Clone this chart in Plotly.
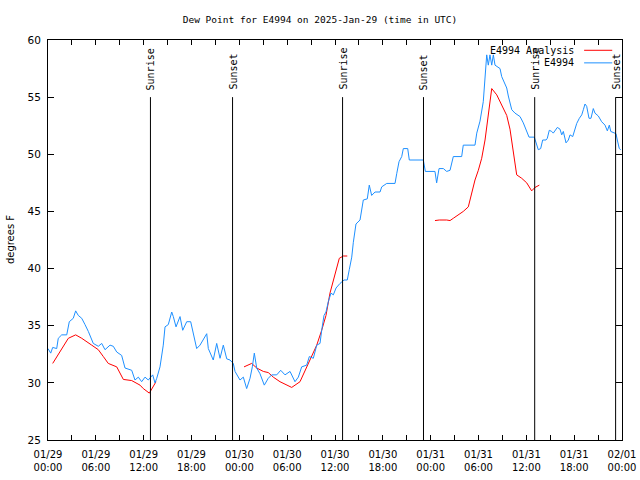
import pandas as pd
import plotly.graph_objects as go

START = pd.Timestamp("2025-01-29 00:00")

# Observed dew point (E4994), hours since 2025-01-29 00:00 UTC
obs_hours = [0.0, 0.34, 0.59, 1.09, 1.29, 1.72, 2.35, 2.67, 3.17, 3.47, 3.80, 4.23, 4.64, 5.06, 5.68,
             6.31, 6.74, 7.15, 7.78, 8.19, 8.62, 9.24, 9.66, 10.50, 10.91, 11.33, 11.75, 12.17, 12.58,
             13.13, 13.42, 13.64, 14.05, 14.46, 14.68, 15.09, 15.52, 15.72, 16.06, 16.56, 16.90, 17.40,
             17.90, 18.23, 18.65, 19.07, 19.48, 19.91, 20.11, 20.73, 21.16, 21.58, 21.99, 22.42, 22.83,
             23.24, 23.46, 24.08, 24.50, 24.92, 25.34, 25.63, 25.88, 26.18, 26.59, 27.13, 27.63, 28.06,
             28.69, 29.19, 29.73, 30.36, 30.98, 31.40, 31.82, 32.45, 32.78, 33.28, 33.71, 34.12, 34.33,
             34.62, 34.87, 35.16, 35.50, 35.79, 36.13, 36.63, 37.13, 37.54, 37.79, 38.10, 38.30, 38.63,
             39.14, 39.35, 39.55, 40.05, 40.30, 40.60, 41.02, 41.65, 41.86, 42.49, 43.53, 43.74, 44.03,
             44.37, 44.57, 45.12, 45.32, 47.08, 47.33, 48.54, 48.75, 49.05, 49.59, 50.01, 50.43, 50.84,
             51.89, 52.09, 53.56, 53.78, 54.19, 54.60, 54.82, 55.03, 55.23, 55.44, 55.66, 55.86, 56.07,
             56.70, 56.91, 57.54, 57.74, 58.17, 58.58, 59.21, 59.62, 60.05, 60.34, 61.00, 61.30, 61.50,
             61.80, 62.05, 62.47, 62.63, 62.88, 63.18, 63.38, 63.60, 63.89, 64.22, 64.44, 64.64, 64.98,
             65.27, 65.48, 65.82, 66.11, 66.32, 66.65, 66.95, 67.15, 67.36, 67.57, 67.86, 68.11, 68.40,
             68.61, 69.03, 69.45, 69.87, 70.16, 70.41, 70.59, 71.00, 71.25, 71.41, 71.66, 71.84]
obs_values = [33.0, 32.6, 33.1, 33.0, 33.9, 34.2, 34.2, 35.35, 35.65, 36.3, 35.9, 35.65, 35.1, 34.5, 33.45,
              33.2, 33.45, 32.9, 33.3, 33.2, 32.7, 32.4, 31.3, 31.1, 30.25, 30.5, 30.1, 30.5, 30.25,
              30.7, 30.0, 30.4, 31.4, 33.3, 34.9, 35.1, 36.2, 35.8, 34.9, 35.8, 34.6, 35.35,
              35.35, 34.3, 33.0, 33.3, 33.75, 34.3, 33.0, 32.0, 33.45, 32.15, 33.3, 32.1, 32.0,
              31.7, 31.0, 30.25, 30.5, 29.5, 30.4, 31.4, 32.6, 31.3, 30.8, 29.8, 30.4, 30.7,
              30.7, 31.1, 30.7, 31.0, 30.1, 30.5, 31.4, 31.55, 32.3, 32.15, 33.3, 33.45, 34.6,
              35.9, 36.2, 37.1, 37.85, 37.7, 38.3, 38.7, 39.0, 39.0, 39.9, 41.0, 42.3, 43.9,
              44.25, 45.4, 46.0, 46.1, 47.3, 46.4, 46.7, 46.7, 47.15, 47.45, 47.45, 48.3, 49.35,
              49.8, 50.5, 50.5, 49.5, 49.5, 48.5, 48.5, 47.5, 48.75, 48.75, 48.5, 48.6, 49.8,
              49.8, 50.8, 50.8, 51.85, 52.9, 54.6, 56.5, 58.7, 57.8, 58.7, 57.8, 58.7, 57.8,
              57.5, 56.8, 55.8, 55.1, 53.9, 53.6, 53.3, 52.75, 52.0, 51.5, 51.5, 50.7, 50.4,
              50.5, 51.25, 51.25, 51.4, 52.1, 52.0, 51.85, 52.1, 52.35, 52.2, 51.7, 52.0, 51.0,
              51.25, 51.7, 51.55, 52.2, 52.7, 53.15, 53.45, 53.9, 54.4, 54.2, 53.15, 53.15, 54.0,
              53.6, 53.35, 52.85, 52.55, 52.05, 52.55, 52.0, 51.85, 51.8, 51.25, 50.5, 50.4]

# Analysis dew point (None = gap)
ana_hours = [0.59, 2.55, 3.47, 4.23, 5.48, 6.31, 6.94, 7.56, 8.62, 9.45, 10.50, 11.54, 11.95, 12.71, 13.55,
             19.0,
             24.59, 25.55, 26.18, 27.01, 27.63, 28.26, 29.10, 29.94, 30.57, 31.61, 32.45, 33.08, 33.71,
             34.33, 34.87, 35.37, 36.00, 36.54, 37.04, 37.54,
             43.0,
             48.54, 49.08, 50.01, 50.43, 50.84, 51.47, 52.09, 52.72, 52.93, 53.56, 53.98, 54.40, 54.82,
             55.23, 55.44, 55.66, 56.29, 56.91, 57.54, 57.95, 58.37, 58.70, 58.79, 59.42, 60.05, 60.67,
             61.09, 61.63]
ana_values = [31.7, 33.9, 34.2, 33.9, 33.3, 32.9, 32.3, 31.7, 31.4, 30.3, 30.2, 29.8, 29.5, 29.1, 30.1,
              None,
              31.4, 31.7, 31.3, 31.0, 30.9, 30.5, 30.1, 29.8, 29.6, 30.1, 31.4, 32.3, 33.3,
              34.6, 35.9, 37.85, 39.6, 40.9, 41.1, 41.1,
              None,
              44.2, 44.25, 44.25, 44.2, 44.4, 44.7, 45.0, 45.4, 46.0, 47.75, 48.6, 49.65, 51.25,
              53.3, 54.75, 55.75, 55.2, 54.3, 53.4, 52.2, 50.4, 48.9, 48.2, 47.9, 47.5, 46.8,
              47.1, 47.3]

# Sun events (hours since start)
sun_hours = [12.85, 23.15, 36.95, 47.1, 61.05, 71.2]
sun_labels = ["Sunrise", "Sunset", "Sunrise", "Sunset", "Sunrise", "Sunset"]

# Axis
y_ticks = [25, 30, 35, 40, 45, 50, 55, 60]
x_tick_hours = list(range(0, 73, 3))

def t(h):
    return START + pd.to_timedelta(h, unit="h")

obs_t = [t(h) for h in obs_hours]
ana_t = [t(h) for h in ana_hours]

MONO = "DejaVu Sans Mono"
SANS = "DejaVu Sans"

fig = go.Figure()
fig.add_trace(go.Scatter(x=ana_t, y=ana_values, mode="lines", name="E4994 Analysis",
                         line=dict(color="#ff0000", width=1), connectgaps=False))
fig.add_trace(go.Scatter(x=obs_t, y=obs_values, mode="lines", name="E4994",
                         line=dict(color="#1e90ff", width=1)))

shapes = []
annotations = []
for h, lab in zip(sun_hours, sun_labels):
    shapes.append(dict(type="line", xref="x", yref="y", x0=t(h), x1=t(h), y0=25, y1=55,
                       line=dict(color="black", width=1)))
    annotations.append(dict(x=t(h), y=55.45, xref="x", yref="y", text=lab, showarrow=False,
                            textangle=-90, xanchor="center", yanchor="bottom",
                            font=dict(family=MONO, size=10, color="black")))

# manual legend (text right, sample line to the right)
leg_items = [("E4994 Analysis", "#ff0000", 59.1), ("E4994", "#1e90ff", 58.0)]
for name, col, yv in leg_items:
    annotations.append(dict(x=0.92, y=yv, xref="paper", yref="y", text=name, showarrow=False,
                            xanchor="right", yanchor="middle",
                            font=dict(family=MONO, size=10, color="black")))
    shapes.append(dict(type="line", xref="paper", yref="y", x0=0.934, x1=0.983, y0=yv, y1=yv,
                       line=dict(color=col, width=1)))

annotations.append(dict(x=-0.066, y=0.5, xref="paper", yref="paper", text="degrees F",
                        showarrow=False, textangle=-90, xanchor="center", yanchor="middle",
                        font=dict(family=SANS, size=10, color="black")))

tick_text = []
for h in x_tick_hours:
    if h % 6 == 0:
        ts = t(h)
        tick_text.append(ts.strftime("%m/%d") + "<br>" + ts.strftime("%H:%M"))
    else:
        tick_text.append("")

fig.update_layout(
    width=640, height=480,
    margin=dict(l=48, r=18, t=40, b=40, autoexpand=False),
    paper_bgcolor="white", plot_bgcolor="white",
    showlegend=False,
    title=dict(text="Dew Point for E4994 on 2025-Jan-29 (time in UTC)", x=0.5, xanchor="center",
               y=0.958, yanchor="middle", font=dict(family=MONO, size=9.5, color="black")),
    shapes=shapes, annotations=annotations,
    xaxis=dict(range=[t(0), t(72)], tickvals=[t(h) for h in x_tick_hours], ticktext=tick_text,
               ticks="inside", ticklen=5, tickcolor="black", showline=True, linecolor="black",
               linewidth=1, mirror="allticks", showgrid=False, zeroline=False, automargin=False,
               ticklabelstandoff=5,
               tickfont=dict(family=SANS, size=10, color="black")),
    yaxis=dict(range=[25, 60], tickvals=y_ticks, ticks="inside", ticklen=6, tickcolor="black",
               showline=True, linecolor="black", linewidth=1, mirror="allticks", automargin=False,
               showgrid=False, zeroline=False, ticklabelstandoff=4,
               tickfont=dict(family=SANS, size=10.5, color="black")),
)

fig.write_html("out.html", config={"displayModeBar": False},
               post_script="document.body.style.margin='0';document.body.style.padding='0';")
